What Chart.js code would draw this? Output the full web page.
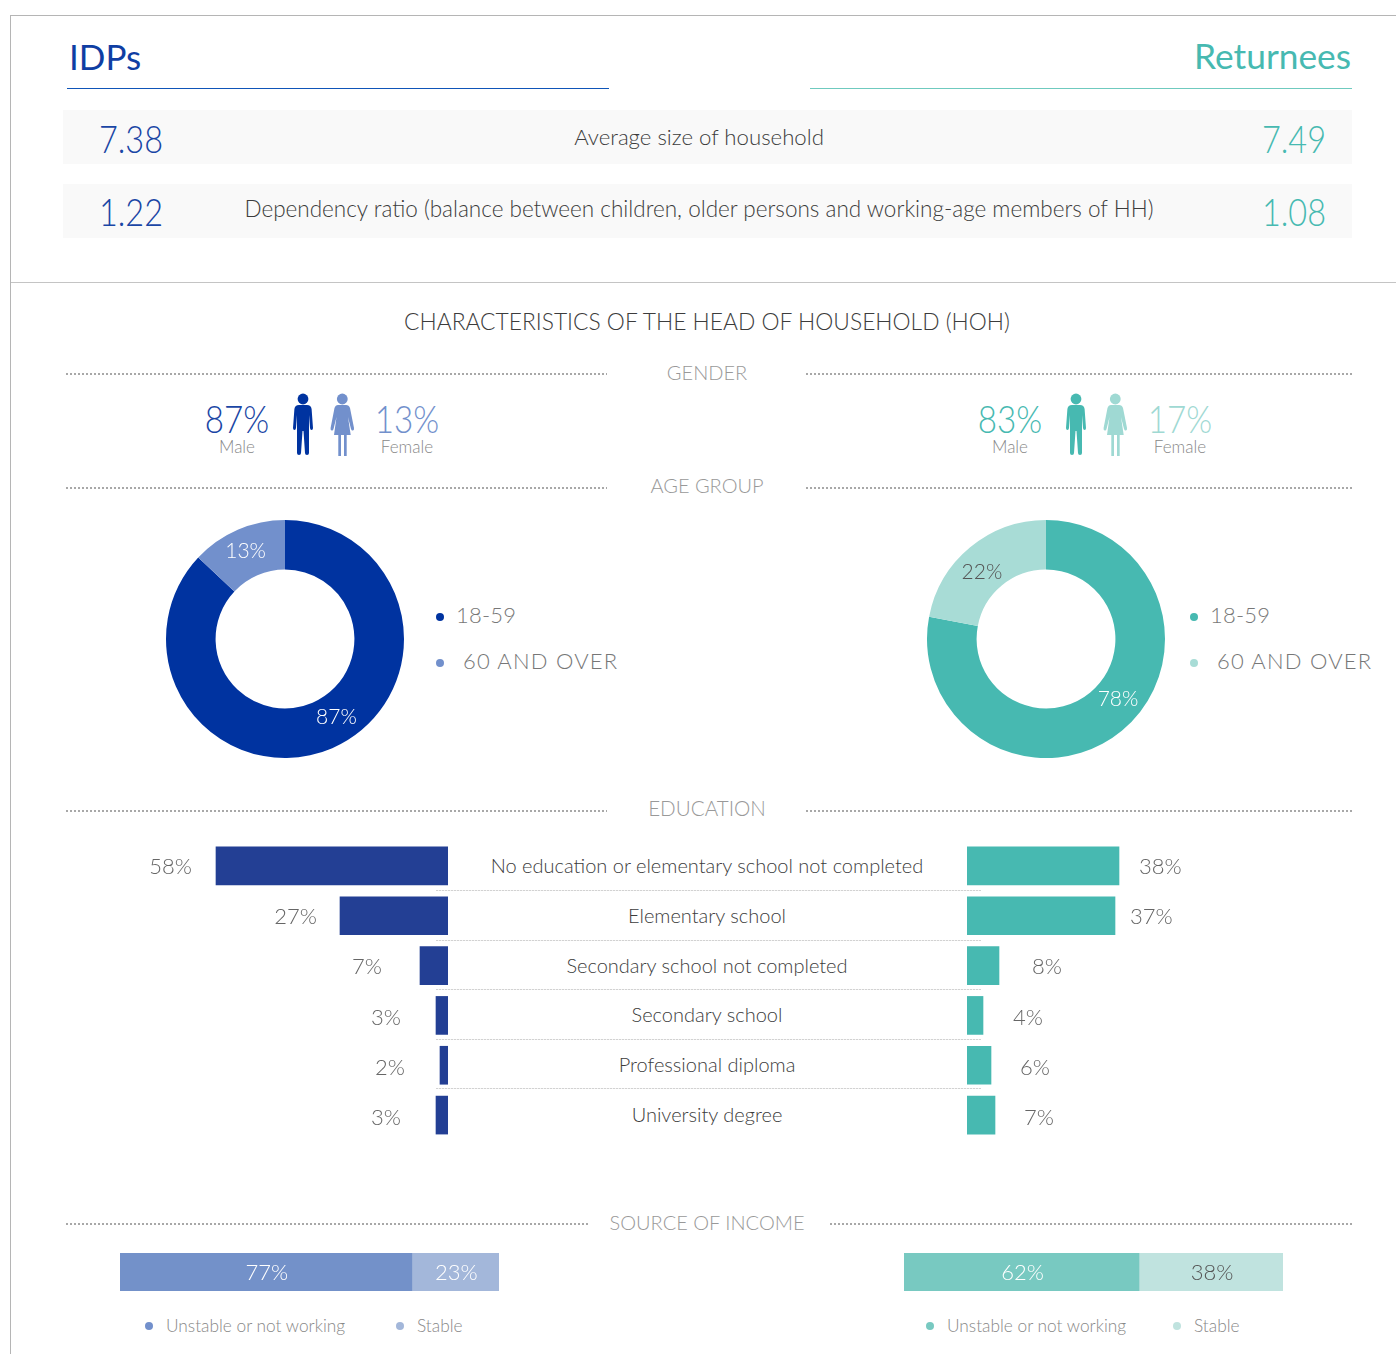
<!DOCTYPE html>
<html>
<head>
<meta charset="utf-8">
<title>IDPs and Returnees</title>
<script src="https://cdn.jsdelivr.net/npm/chart.js@4"></script>
<style>
html, body { margin: 0; padding: 0; background: #fff; }
#page { position: relative; width: 1396px; height: 1354px; overflow: hidden; font-family: Lato, sans-serif; font-weight: 300; }
.t { position: absolute; white-space: nowrap; line-height: 1; }
.box { position: absolute; }
.dots { position: absolute; }
.dot { position: absolute; border-radius: 50%; }
canvas { position: absolute; }
svg { position: absolute; }
</style>
</head>
<body>
<div id="page">
	<svg width="0" height="0">
		<symbol id="man" viewBox="0 0 22 63"><circle cx="11" cy="6" r="5.4"/><path d="M7 12H15Q19 12 19.6 16L21 35Q21 37 19.5 37Q18.2 37 18 35L17 22V60Q17 62 15 62Q13 62 13 60L11.5 38H10.5L9 60Q9 62 7 62Q5 62 5 60V22L4 35Q3.8 37 2.5 37Q1 37 1 35L2.4 16Q3 12 7 12Z"/></symbol>
		<symbol id="woman" viewBox="0 0 25 64"><circle cx="12.3" cy="6" r="5.4"/><path d="M8 12H16Q19 12 20 15L24 35Q24.3 37 23 37.5Q21.7 38 21 36L18 24L20.7 42H16.7V63H14V42H11V63H8.3V42H4L6.5 24L3.5 36Q3 38 1.6 37.5Q.3 37 .6 35L4.5 15Q5.5 12 8 12Z"/></symbol>
	</svg>
	<canvas id="ageIdp" width="240" height="240" style="left:165px;top:519px"></canvas>
	<canvas id="ageRet" width="240" height="240" style="left:926px;top:519px"></canvas>
	<canvas id="eduIdp" width="400" height="299" style="left:48px;top:841px"></canvas>
	<canvas id="eduRet" width="400" height="299" style="left:967px;top:841px"></canvas>
	<canvas id="incomeIdp" width="379" height="38" style="left:120px;top:1253px"></canvas>
	<canvas id="incomeRet" width="379" height="38" style="left:904px;top:1253px"></canvas>
</div>
<script>
const statLabels = ['Average size of household', 'Dependency ratio (balance between children, older persons and working-age members of HH)'];
const statIdp = ['7.38', '1.22'];
const statRet = ['7.49', '1.08'];

const genderLabels = ['Male', 'Female'];
const genderIdp = [87, 13];
const genderRet = [83, 17];

const ageLabels = ['18-59', '60 AND OVER'];
const ageIdp = [87, 13];
const ageRet = [78, 22];

const eduLabels = ['No education or elementary school not completed', 'Elementary school', 'Secondary school not completed', 'Secondary school', 'Professional diploma', 'University degree'];
const eduIdp = [58, 27, 7, 3, 2, 3];
const eduRet = [38, 37, 8, 4, 6, 7];

const incomeLabels = ['Unstable or not working', 'Stable'];
const incomeIdp = [77, 23];
const incomeRet = [62, 38];

const BLUE = '#0033a0', BLUE_BAR = '#233f94', BLUE_LIGHT = '#7290cc';
const TEAL = '#47b9b1', TEAL_LIGHT = '#a8dcd6';
const FONT = 'Lato, sans-serif';

const page = document.getElementById('page');

// squeeze narrows the big numbers, Lato digits are wider than the original's
function put(text, x, y, size, color, align, extra, squeeze) {
	const el = document.createElement('div');
	el.className = 't';
	el.textContent = text;
	el.style.left = x + 'px';
	el.style.top = (y - 1) + 'px';
	el.style.fontSize = size + 'px';
	el.style.color = color;
	const shift = align === 'c' ? '-50%' : align === 'r' ? '-100%' : '0';
	el.style.transform = `translate(${shift}, -50%)` + (squeeze ? ` scaleX(${squeeze})` : '');
	el.style.transformOrigin = align === 'c' ? 'center' : align === 'r' ? 'right center' : 'left center';
	Object.assign(el.style, extra || {});
	page.appendChild(el);
}

function box(x, y, w, h, color) {
	const el = document.createElement('div');
	el.className = 'box';
	el.style.cssText = `left:${x}px;top:${y}px;width:${w}px;height:${h}px;background:${color}`;
	page.prepend(el);
}

// section rule: 2px dots every 4px
function dots(x1, x2, y) {
	const el = document.createElement('div');
	el.className = 'dots';
	el.style.cssText = `left:${x1}px;top:${y - 1}px;width:${x2 - x1}px;height:2px;background:repeating-linear-gradient(90deg,#a8a8a8 0 2px,transparent 2px 4px)`;
	page.appendChild(el);
}

// row rule between the education lines, finer and paler
function fineDots(x1, x2, y) {
	const el = document.createElement('div');
	el.className = 'dots';
	el.style.cssText = `left:${x1}px;top:${y}px;width:${x2 - x1}px;height:1px;background:repeating-linear-gradient(90deg,#d2d2d2 0 2px,#f2f2f2 2px 3px)`;
	page.appendChild(el);
}

function dot(x, y, r, color) {
	const el = document.createElement('div');
	el.className = 'dot';
	el.style.cssText = `left:${x - r}px;top:${y - r}px;width:${r * 2}px;height:${r * 2}px;background:${color}`;
	page.appendChild(el);
}

function person(id, x, y, w, h, color) {
	const ns = 'http://www.w3.org/2000/svg';
	const svg = document.createElementNS(ns, 'svg');
	svg.setAttribute('width', w);
	svg.setAttribute('height', h);
	svg.style.left = x + 'px';
	svg.style.top = y + 'px';
	svg.style.fill = color;
	const use = document.createElementNS(ns, 'use');
	use.setAttribute('href', '#' + id);
	svg.appendChild(use);
	page.appendChild(svg);
}

// frame
box(10, 15, 1386, 1, '#b5b5b5');
box(10, 15, 1, 1339, '#b5b5b5');
box(10, 282, 1386, 1, '#c4c4c4');

// header
put('IDPs', 69, 57, 35, '#0f3ea3', 'l', { fontWeight: 400 });
put('Returnees', 1351, 57, 35.3, TEAL, 'r', { fontWeight: 400 });
box(67, 88, 542, 1, '#0f55b8');
box(810, 88, 542, 1, '#6fcabf');

// stat rows
box(63, 110, 1289, 54, '#f9f9f9');
box(63, 184, 1289, 54, '#f9f9f9');
[139, 212].forEach((y, i) => {
	put(statIdp[i], 163, y, 38, '#1a46a5', 'r', null, .855);
	put(statRet[i], 1326, y, 38, TEAL, 'r', null, .855);
});
put(statLabels[0], 699, 138, 22.2, '#3c3c3c', 'c');
put(statLabels[1], 699, 210, 22.5, '#3c3c3c', 'c');

put('CHARACTERISTICS OF THE HEAD OF HOUSEHOLD (HOH)', 707, 322, 22.8, '#3c3c3c', 'c');

// section titles with dotted rules
dots(66, 607, 374); dots(806, 1352, 374);
put('GENDER', 707, 373, 20, '#999', 'c');
dots(66, 607, 488); dots(806, 1352, 488);
put('AGE GROUP', 707, 486, 20, '#999', 'c');
dots(66, 607, 811); dots(806, 1352, 811);
put('EDUCATION', 707, 809, 20.6, '#999', 'c');
dots(66, 588, 1224); dots(830, 1352, 1224);
put('SOURCE OF INCOME', 707, 1223, 20, '#999', 'c');

// gender
put(genderIdp[0] + '%', 237, 419, 38, '#1a46a5', 'c', null, .875);
put(genderLabels[0], 237, 447, 17, '#888', 'c');
put(genderIdp[1] + '%', 407, 419, 38, BLUE_LIGHT, 'c', null, .875);
put(genderLabels[1], 407, 447, 17, '#888', 'c');
put(genderRet[0] + '%', 1010, 419, 38, TEAL, 'c', null, .875);
put(genderLabels[0], 1010, 447, 17, '#888', 'c');
put(genderRet[1] + '%', 1180, 419, 38, '#9fd9d3', 'c', null, .875);
put(genderLabels[1], 1180, 447, 17, '#888', 'c');
person('man', 292, 393, 22, 63, BLUE);
person('woman', 330, 393, 25, 64, BLUE_LIGHT);
person('man', 1065, 393, 22, 63, TEAL);
person('woman', 1103, 393, 25, 64, '#9fd9d3');

// age legends
const ageShort = { letterSpacing: '.2px' };
const ageLong = { letterSpacing: '1.2px' };
dot(440, 617, 4, BLUE); put(ageLabels[0], 456, 616, 22, '#777', 'l', ageShort);
dot(440, 663, 4, BLUE_LIGHT); put(ageLabels[1], 463, 662, 22, '#777', 'l', ageLong);
dot(1194, 617, 4, TEAL); put(ageLabels[0], 1210, 616, 22, '#777', 'l', ageShort);
dot(1194, 663, 4, TEAL_LIGHT); put(ageLabels[1], 1217, 662, 22, '#777', 'l', ageLong);

// education row names
[866, 916, 966, 1015, 1065, 1115].forEach((y, i) => {
	put(eduLabels[i], 707, y, 20, '#3c3c3c', 'c');
});
[890, 940, 989, 1039, 1088].forEach(y => fineDots(436, 981, y));

// income legends
dot(149, 1326, 4, BLUE_LIGHT); put(incomeLabels[0], 166, 1327, 17.3, '#888', 'l');
dot(400, 1326, 4, '#a3b7da'); put(incomeLabels[1], 417, 1327, 17.3, '#888', 'l');
dot(930, 1326, 4, '#78c9c1'); put(incomeLabels[0], 947, 1327, 17.3, '#888', 'l');
dot(1177, 1326, 4, '#c0e3df'); put(incomeLabels[1], 1194, 1327, 17.3, '#888', 'l');

// donut labels sit on the ring, nudged where the picture moves them off centre
const donutLabels = {
	id: 'donutLabels',
	afterDatasetsDraw(chart, args, opts) {
		const ctx = chart.ctx;
		ctx.save();
		ctx.font = '300 21px ' + FONT;
		ctx.textAlign = 'center';
		ctx.textBaseline = 'middle';
		chart.getDatasetMeta(0).data.forEach((arc, i) => {
			const p = arc.tooltipPosition();
			ctx.fillStyle = opts.colors[i];
			ctx.fillText(chart.data.datasets[0].data[i] + '%', p.x + opts.nudge[i][0], p.y + opts.nudge[i][1]);
		});
		ctx.restore();
	}
};

function ageChart(id, values, colors, labelColors, nudge) {
	new Chart(document.getElementById(id), {
		type: 'doughnut',
		data: {
			labels: ageLabels,
			datasets: [{ data: values, backgroundColor: colors, borderWidth: 0 }]
		},
		options: {
			responsive: false,
			animation: false,
			radius: 119,
			cutout: 70,
			plugins: {
				legend: { display: false },
				tooltip: { enabled: false },
				donutLabels: { colors: labelColors, nudge: nudge }
			}
		},
		plugins: [donutLabels]
	});
}

ageChart('ageIdp', ageIdp, [BLUE, BLUE_LIGHT], ['#fff', '#fff'], [[14, -8], [-2, -1]]);
ageChart('ageRet', ageRet, [TEAL, TEAL_LIGHT], ['#fff', '#555'], [[12, -12], [-4, 6]]);

// labels drift down the column in the picture, so the rows get their own offset
const eduLabelDrop = [1, 1, 1, 2, 3, 3];

const eduValueLabels = {
	id: 'eduValueLabels',
	afterDatasetsDraw(chart, args, opts) {
		const ctx = chart.ctx;
		ctx.save();
		ctx.font = '300 22px ' + FONT;
		ctx.fillStyle = '#666';
		ctx.textAlign = opts.side;
		ctx.textBaseline = 'middle';
		const dir = opts.side === 'right' ? -1 : 1;
		chart.getDatasetMeta(0).data.forEach((bar, i) => {
			ctx.fillText(chart.data.datasets[0].data[i] + '%', bar.x + dir * opts.gaps[i], bar.y + eduLabelDrop[i]);
		});
		ctx.restore();
	}
};

function eduChart(id, values, color, reverse, side, gaps) {
	new Chart(document.getElementById(id), {
		type: 'bar',
		data: {
			labels: eduLabels,
			datasets: [{ data: values, backgroundColor: color, barThickness: 38 }]
		},
		options: {
			indexAxis: 'y',
			responsive: false,
			animation: false,
			scales: {
				x: { display: false, min: 0, max: 100, reverse: reverse },
				y: { display: false }
			},
			plugins: {
				legend: { display: false },
				tooltip: { enabled: false },
				eduValueLabels: { side: side, gaps: gaps }
			}
		},
		plugins: [eduValueLabels]
	});
}

eduChart('eduIdp', eduIdp, BLUE_BAR, true, 'right', [24, 23, 38, 35, 35, 35]);
eduChart('eduRet', eduRet, TEAL, false, 'left', [20, 15, 33, 30, 29, 29]);

const incomeValueLabels = {
	id: 'incomeValueLabels',
	afterDatasetsDraw(chart, args, opts) {
		const ctx = chart.ctx;
		ctx.save();
		ctx.font = '300 22px ' + FONT;
		ctx.textAlign = 'center';
		ctx.textBaseline = 'middle';
		chart.data.datasets.forEach((ds, i) => {
			const bar = chart.getDatasetMeta(i).data[0];
			ctx.fillStyle = opts.colors[i];
			ctx.fillText(ds.data[0] + '%', (bar.x + bar.base) / 2 + 1, bar.y + 1);
		});
		ctx.restore();
	}
};

function incomeChart(id, values, colors, labelColors) {
	new Chart(document.getElementById(id), {
		type: 'bar',
		data: {
			labels: ['Source of income'],
			datasets: incomeLabels.map((name, i) => ({ label: name, data: [values[i]], backgroundColor: colors[i] }))
		},
		options: {
			indexAxis: 'y',
			responsive: false,
			animation: false,
			datasets: { bar: { categoryPercentage: 1, barPercentage: 1 } },
			scales: {
				x: { display: false, stacked: true, min: 0, max: 100 },
				y: { display: false, stacked: true }
			},
			plugins: {
				legend: { display: false },
				tooltip: { enabled: false },
				incomeValueLabels: { colors: labelColors }
			}
		},
		plugins: [incomeValueLabels]
	});
}

incomeChart('incomeIdp', incomeIdp, ['#7391c9', '#a3b7da'], ['#fff', '#fff']);
incomeChart('incomeRet', incomeRet, ['#78c9c1', '#c0e3df'], ['#fff', '#555']);
</script>
</body>
</html>
